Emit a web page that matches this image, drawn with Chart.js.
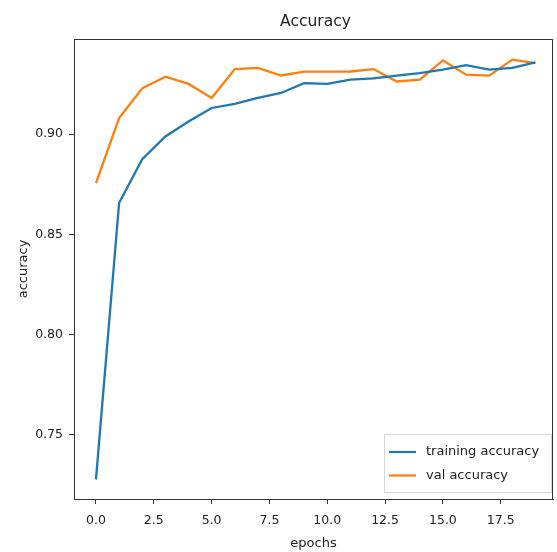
<!DOCTYPE html>
<html>
<head>
<meta charset="utf-8">
<script src="https://cdn.jsdelivr.net/npm/chart.js@4.4.1/dist/chart.umd.min.js"></script>
<style>
  html, body { margin: 0; padding: 0; background: #fff; }
  #wrap { width: 557px; height: 552px; }
</style>
</head>
<body>
<div id="wrap"><canvas id="c" width="557" height="552"></canvas></div>
<script>
var epochs = [0, 1, 2, 3, 4, 5, 6, 7, 8, 9, 10, 11, 12, 13, 14, 15, 16, 17, 18, 19];
var trainAcc = [0.7278, 0.8656, 0.8875, 0.8988, 0.9063, 0.9130, 0.9151, 0.9180, 0.9205, 0.9254,
                0.9250, 0.9271, 0.9278, 0.9291, 0.9304, 0.9321, 0.9344, 0.9321, 0.9330, 0.9357];
var valAcc = [0.8755, 0.9080, 0.9228, 0.9286, 0.9250, 0.9180, 0.9324, 0.9330, 0.9292, 0.9311,
              0.9311, 0.9312, 0.9324, 0.9262, 0.9271, 0.9367, 0.9296, 0.9291, 0.9371, 0.9354];
var xTicks = [0, 2.5, 5, 7.5, 10, 12.5, 15, 17.5];
var yTicks = [0.75, 0.80, 0.85, 0.90];

var FONT = "'DejaVu Sans', sans-serif";
var AXIS = '#333333';

function pts(ys) {
    return epochs.map(function(e, i) { return { x: e, y: ys[i] }; });
}

// box around the plot area, like matplotlib spines
var framePlugin = {
    id: 'frame',
    afterDraw: function(chart) {
        var a = chart.chartArea, ctx = chart.ctx;
        ctx.save();
        ctx.strokeStyle = AXIS;
        ctx.lineWidth = 1;
        ctx.strokeRect(a.left + 0.5, a.top + 0.5, a.right - a.left - 1, a.bottom - a.top);
        ctx.restore();
    }
};

// title and in-plot legend
var textPlugin = {
    id: 'texts',
    afterDraw: function(chart) {
        var a = chart.chartArea, ctx = chart.ctx;
        ctx.save();
        ctx.fillStyle = '#222';
        ctx.font = '15.5px ' + FONT;
        ctx.textAlign = 'center';
        ctx.textBaseline = 'middle';
        ctx.fillText('Accuracy', (a.left + a.right) / 2 + 2, 22);

        // legend box
        var bx = 384, by = 434, bw = 167, bh = 58;
        ctx.fillStyle = 'rgba(255,255,255,0.85)';
        ctx.strokeStyle = '#d6d6d6';
        ctx.lineWidth = 1;
        ctx.beginPath();
        ctx.rect(bx + 0.5, by + 0.5, bw, bh);
        ctx.fill();
        ctx.stroke();
        ctx.textAlign = 'left';
        ctx.font = '13px ' + FONT;
        chart.data.datasets.forEach(function(ds, i) {
            var ly = by + 18 + i * 23.5;
            ctx.strokeStyle = ds.borderColor;
            ctx.lineWidth = 2.2;
            ctx.beginPath();
            ctx.moveTo(bx + 5, ly);
            ctx.lineTo(bx + 32, ly);
            ctx.stroke();
            ctx.fillStyle = '#222';
            ctx.fillText(ds.label, bx + 42, ly);
        });
        ctx.restore();
    }
};

new Chart(document.getElementById('c'), {
    type: 'line',
    data: {
        datasets: [
            { label: 'training accuracy', data: pts(trainAcc), borderColor: '#1f77b4', borderWidth: 2.3, pointRadius: 0, tension: 0, fill: false },
            { label: 'val accuracy', data: pts(valAcc), borderColor: '#ff7f0e', borderWidth: 2.3, pointRadius: 0, tension: 0, fill: false }
        ]
    },
    options: {
        responsive: false,
        animation: false,
        layout: { padding: { top: 39, right: 4, left: 0, bottom: 0 } },
        plugins: {
            legend: { display: false },
            title: { display: false },
            tooltip: { enabled: false }
        },
        scales: {
            x: {
                type: 'linear',
                min: -0.95,
                max: 19.76,
                afterBuildTicks: function(s) { s.ticks = xTicks.map(function(v) { return { value: v }; }); },
                afterFit: function(s) { s.height = 53; },
                grid: { display: true, drawOnChartArea: false, drawTicks: true, tickLength: 5, color: AXIS },
                border: { display: true, color: AXIS },
                ticks: {
                    color: '#222',
                    font: { family: FONT, size: 12.5 },
                    padding: 9,
                    maxRotation: 0,
                    callback: function(v) { return v.toFixed(1); }
                },
                title: { display: true, text: 'epochs', color: '#222', font: { family: FONT, size: 13 }, padding: { top: 0, bottom: 1 } }
            },
            y: {
                min: 0.718,
                max: 0.9474,
                afterBuildTicks: function(s) { s.ticks = yTicks.map(function(v) { return { value: v }; }); },
                afterFit: function(s) { s.width = 74; },
                grid: { display: true, drawOnChartArea: false, drawTicks: true, tickLength: 5, color: AXIS },
                border: { display: true, color: AXIS },
                ticks: {
                    color: '#222',
                    font: { family: FONT, size: 12.5 },
                    padding: 6,
                    callback: function(v) { return v.toFixed(2); }
                },
                title: { display: true, text: 'accuracy', color: '#222', font: { family: FONT, size: 13 }, padding: { top: 16, bottom: 0 } }
            }
        }
    },
    plugins: [framePlugin, textPlugin]
});
</script>
</body>
</html>
